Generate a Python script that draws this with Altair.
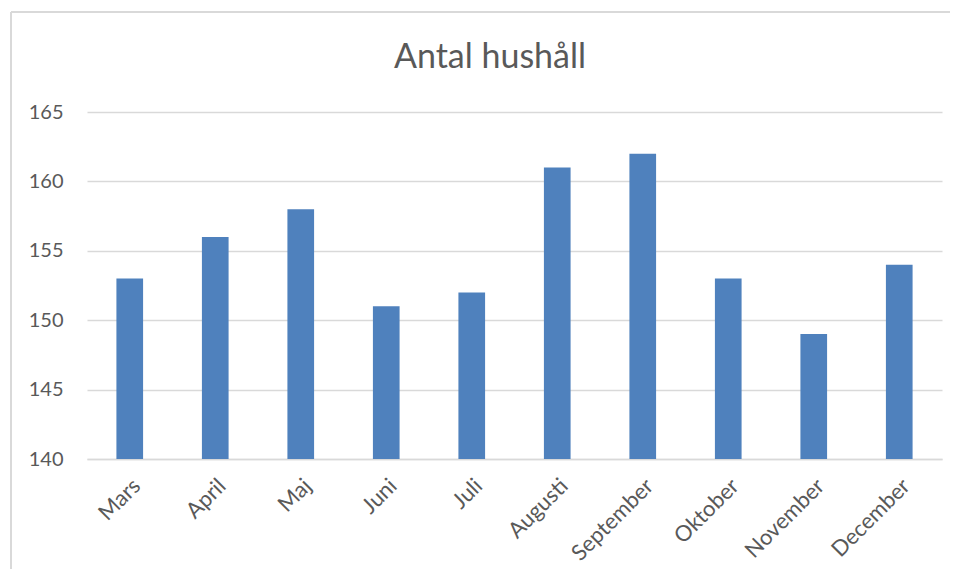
import altair as alt
import pandas as pd

months = ["Mars", "April", "Maj", "Juni", "Juli", "Augusti", "September", "Oktober", "November", "December"]
values = [153, 156, 158, 151, 152, 161, 162, 153, 149, 154]
y_ticks = [140, 145, 150, 155, 160, 165]
title_text = "Antal hushåll"

df = pd.DataFrame({"Månad": months, "Antal": values})

FONT = "Lato"
TXT = "#595959"
GRID = "#d9d9d9"

bars = alt.Chart(df).mark_bar(color="#4f81bd").encode(
    x=alt.X("Månad:N", sort=months, title=None,
            scale=alt.Scale(paddingInner=0.688, paddingOuter=0.344),
            axis=alt.Axis(labelAngle=-45, labelAlign="right", labelBaseline="top",
                          labelPadding=16, ticks=False, domain=True, domainColor=GRID,
                          domainWidth=1.5, grid=False, labelFont=FONT, labelFontSize=22,
                          labelColor=TXT)),
    y=alt.Y("Antal:Q", title=None,
            scale=alt.Scale(domain=[140, 165], nice=False, zero=False),
            axis=alt.Axis(values=y_ticks, ticks=False, domain=False, grid=True,
                          gridColor=GRID, gridWidth=1.5, labelPadding=24,
                          labelFont=FONT, labelFontSize=20, labelColor=TXT)),
    y2=alt.datum(140),
)

one = pd.DataFrame({"a": [0]})

top_border = alt.Chart(one).mark_rule(color=GRID, strokeWidth=2).encode(
    x=alt.value(-76), x2=alt.value(1000), y=alt.value(-100)
)
left_border = alt.Chart(one).mark_rule(color=GRID, strokeWidth=2).encode(
    x=alt.value(-76), y=alt.value(-100), y2=alt.value(700)
)

title = alt.Chart(one).mark_text(
    font=FONT, fontSize=34, color=TXT, align="center", baseline="alphabetic"
).encode(
    x=alt.value(403), y=alt.value(-44), text=alt.value(title_text)
)

chart = alt.layer(top_border, left_border, bars, title).properties(
    width=855, height=347,
    padding={"left": 79, "top": 104, "right": 8, "bottom": 110},
    autosize=alt.AutoSizeParams(type="none"),
).configure(background="white").configure_view(stroke=None)

chart.save("out.html", embed_options={"renderer": "svg", "actions": False})
